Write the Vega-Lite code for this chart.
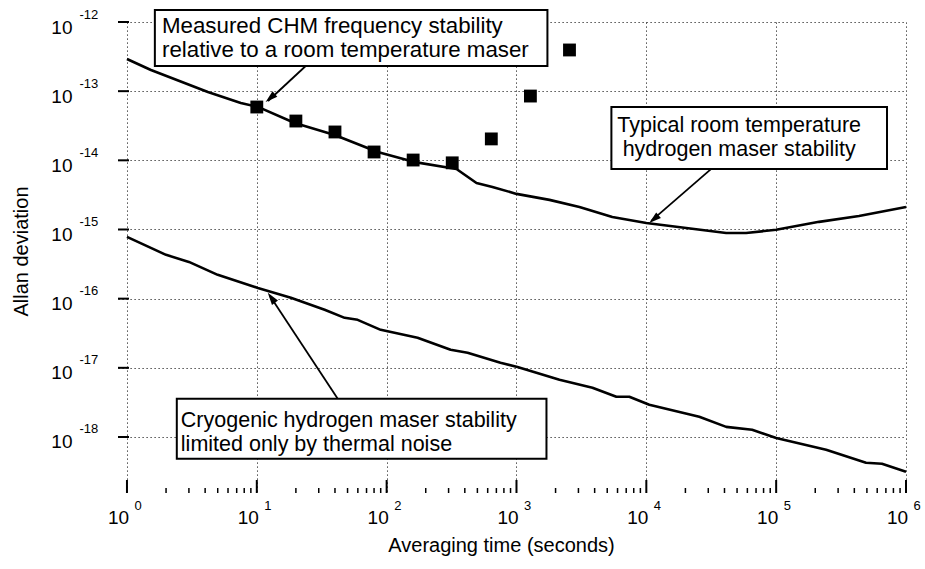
{
  "$schema": "https://vega.github.io/schema/vega-lite/v6.json",
  "width": 788,
  "height": 471,
  "autosize": {"type": "none"},
  "padding": {"left": 118, "top": 22, "right": 19, "bottom": 76},
  "background": "white",
  "config": {
    "view": {"stroke": null},
    "font": "Liberation Sans",
    "axis": {"labelFont": "Liberation Sans", "titleFont": "Liberation Sans", "labelColor": "black", "titleColor": "black"}
  },
  "datasets": {
    "curves": [
      {"s": "room", "t": 1, "v": 2.92e-13},
      {"s": "room", "t": 1.53, "v": 2.02e-13},
      {"s": "room", "t": 4.2, "v": 9.7e-14},
      {"s": "room", "t": 7.53, "v": 6.75e-14},
      {"s": "room", "t": 10.2, "v": 5.92e-14},
      {"s": "room", "t": 19.6, "v": 3.47e-14},
      {"s": "room", "t": 39.8, "v": 2.33e-14},
      {"s": "room", "t": 85.3, "v": 1.32e-14},
      {"s": "room", "t": 161, "v": 9.5e-15},
      {"s": "room", "t": 345, "v": 7.5e-15},
      {"s": "room", "t": 492, "v": 4.71e-15},
      {"s": "room", "t": 653, "v": 4.13e-15},
      {"s": "room", "t": 1000, "v": 3.27e-15},
      {"s": "room", "t": 1795, "v": 2.68e-15},
      {"s": "room", "t": 3055, "v": 2.12e-15},
      {"s": "room", "t": 5470, "v": 1.52e-15},
      {"s": "room", "t": 10000, "v": 1.24e-15},
      {"s": "room", "t": 20300, "v": 1.05e-15},
      {"s": "room", "t": 41200, "v": 8.9e-16},
      {"s": "room", "t": 58700, "v": 8.9e-16},
      {"s": "room", "t": 100000, "v": 9.9e-16},
      {"s": "room", "t": 214000, "v": 1.29e-15},
      {"s": "room", "t": 434500, "v": 1.57e-15},
      {"s": "room", "t": 1000000, "v": 2.12e-15},
      {"s": "cryo", "t": 1, "v": 7.82e-16},
      {"s": "cryo", "t": 2.0, "v": 4.3e-16},
      {"s": "cryo", "t": 3.0, "v": 3.4e-16},
      {"s": "cryo", "t": 5.0, "v": 2.21e-16},
      {"s": "cryo", "t": 10.2, "v": 1.43e-16},
      {"s": "cryo", "t": 18.3, "v": 1.03e-16},
      {"s": "cryo", "t": 33.3, "v": 6.9e-17},
      {"s": "cryo", "t": 47.5, "v": 5.28e-17},
      {"s": "cryo", "t": 59.8, "v": 4.94e-17},
      {"s": "cryo", "t": 90, "v": 3.54e-17},
      {"s": "cryo", "t": 173, "v": 2.72e-17},
      {"s": "cryo", "t": 311, "v": 1.82e-17},
      {"s": "cryo", "t": 420, "v": 1.65e-17},
      {"s": "cryo", "t": 753, "v": 1.18e-17},
      {"s": "cryo", "t": 1018, "v": 1.03e-17},
      {"s": "cryo", "t": 2143, "v": 6.71e-18},
      {"s": "cryo", "t": 3846, "v": 5.14e-18},
      {"s": "cryo", "t": 5875, "v": 3.81e-18},
      {"s": "cryo", "t": 7396, "v": 3.81e-18},
      {"s": "cryo", "t": 10540, "v": 2.92e-18},
      {"s": "cryo", "t": 25570, "v": 1.96e-18},
      {"s": "cryo", "t": 41230, "v": 1.4e-18},
      {"s": "cryo", "t": 65300, "v": 1.27e-18},
      {"s": "cryo", "t": 100000, "v": 9.7e-19},
      {"s": "cryo", "t": 242500, "v": 6.53e-19},
      {"s": "cryo", "t": 492000, "v": 4.24e-19},
      {"s": "cryo", "t": 653000, "v": 4.1e-19},
      {"s": "cryo", "t": 1000000, "v": 3.14e-19}
    ],
    "squares": [
      {"t": 10, "v": 5.9e-14},
      {"t": 20, "v": 3.7e-14},
      {"t": 40, "v": 2.57e-14},
      {"t": 80, "v": 1.32e-14},
      {"t": 160, "v": 1.01e-14},
      {"t": 320, "v": 9.2e-15},
      {"t": 640, "v": 2.04e-14},
      {"t": 1280, "v": 8.5e-14},
      {"t": 2560, "v": 3.94e-13}
    ],
    "boxes": [
      {"t": 1.64, "t2": 1731, "v": 2.31e-13, "v2": 1.49e-12},
      {"t": 5383, "t2": 714000, "v": 7.51e-15, "v2": 5.91e-14},
      {"t": 2.42, "t2": 1702, "v": 4.84e-19, "v2": 3.56e-18}
    ],
    "notes": [
      {"id": "n1", "t": 1.86, "v": 6.93e-13, "txt": "Measured CHM frequency stability\nrelative to a room temperature maser"},
      {"id": "n2", "t": 51900, "v": 2.57e-14, "txt": "Typical room temperature\nhydrogen maser stability"},
      {"id": "n3", "t": 2.6, "v": 1.4e-18, "txt": "Cryogenic hydrogen maser stability\nlimited only by thermal noise"}
    ],
    "arrows": [
      {"id": "a1", "t": 23.8, "v": 2.31e-13},
      {"id": "a1", "t": 12.2, "v": 7.21e-14},
      {"id": "a2", "t": 31620, "v": 7.51e-15},
      {"id": "a2", "t": 10920, "v": 1.33e-15},
      {"id": "a3", "t": 42.0, "v": 3.56e-18},
      {"id": "a3", "t": 12.6, "v": 1.1e-16}
    ],
    "heads": [
      {"id": "a1", "t": 12.7, "v": 7.98e-14},
      {"id": "a2", "t": 11430, "v": 1.41e-15},
      {"id": "a3", "t": 12.95, "v": 1.03e-16}
    ],
    "xticks": [
      {"t": 1, "k": "major"}, {"t": 10, "k": "major"}, {"t": 100, "k": "major"}, {"t": 1000, "k": "major"},
      {"t": 10000, "k": "major"}, {"t": 100000, "k": "major"}, {"t": 1000000, "k": "major"},
      {"t": 2, "k": "minor"}, {"t": 3, "k": "minor"}, {"t": 4, "k": "minor"}, {"t": 5, "k": "minor"}, {"t": 6, "k": "minor"}, {"t": 7, "k": "minor"}, {"t": 8, "k": "minor"}, {"t": 9, "k": "minor"},
      {"t": 20, "k": "minor"}, {"t": 30, "k": "minor"}, {"t": 40, "k": "minor"}, {"t": 50, "k": "minor"}, {"t": 60, "k": "minor"}, {"t": 70, "k": "minor"}, {"t": 80, "k": "minor"}, {"t": 90, "k": "minor"},
      {"t": 200, "k": "minor"}, {"t": 300, "k": "minor"}, {"t": 400, "k": "minor"}, {"t": 500, "k": "minor"}, {"t": 600, "k": "minor"}, {"t": 700, "k": "minor"}, {"t": 800, "k": "minor"}, {"t": 900, "k": "minor"},
      {"t": 2000, "k": "minor"}, {"t": 3000, "k": "minor"}, {"t": 4000, "k": "minor"}, {"t": 5000, "k": "minor"}, {"t": 6000, "k": "minor"}, {"t": 7000, "k": "minor"}, {"t": 8000, "k": "minor"}, {"t": 9000, "k": "minor"},
      {"t": 20000, "k": "minor"}, {"t": 30000, "k": "minor"}, {"t": 40000, "k": "minor"}, {"t": 50000, "k": "minor"}, {"t": 60000, "k": "minor"}, {"t": 70000, "k": "minor"}, {"t": 80000, "k": "minor"}, {"t": 90000, "k": "minor"},
      {"t": 200000, "k": "minor"}, {"t": 300000, "k": "minor"}, {"t": 400000, "k": "minor"}, {"t": 500000, "k": "minor"}, {"t": 600000, "k": "minor"}, {"t": 700000, "k": "minor"}, {"t": 800000, "k": "minor"}, {"t": 900000, "k": "minor"}
    ],
    "yticks": [
      {"v": 1e-18}, {"v": 1e-17}, {"v": 1e-16}, {"v": 1e-15}, {"v": 1e-14}, {"v": 1e-13}, {"v": 1e-12}
    ]
  },
  "layer": [
    {
      "data": {"name": "boxes"},
      "mark": {"type": "rect", "fill": "white", "stroke": "black", "strokeWidth": 2},
      "encoding": {
        "x": {"field": "t", "type": "quantitative",
          "scale": {"type": "log", "domain": [0.853, 1000000], "nice": false},
          "axis": {"orient": "bottom", "values": [1, 10, 100, 1000, 10000, 100000, 1000000],
            "labelExpr": "'' + round(log(datum.value)/LN10)", "labelFontSize": 13,
            "labelAlign": "left", "labelBaseline": "middle", "labelOffset": 7, "labelPadding": 12,
            "labelFlush": false, "labelOverlap": false, "ticks": false, "tickSize": 0,
            "domain": false, "grid": false, "title": null}},
        "x2": {"field": "t2"},
        "y": {"field": "v", "type": "quantitative",
          "scale": {"type": "log", "domain": [1.549e-19, 1e-12], "nice": false}, "axis": null},
        "y2": {"field": "v2"}
      }
    },
    {
      "data": {"name": "curves"},
      "mark": {"type": "line", "color": "black", "strokeWidth": 2.6, "strokeJoin": "round"},
      "encoding": {
        "x": {"field": "t", "type": "quantitative",
          "scale": {"type": "log", "domain": [0.853, 1000000], "nice": false},
          "axis": {"orient": "bottom", "values": [1, 10, 100, 1000, 10000, 100000, 1000000],
            "labelExpr": "'10'", "labelFontSize": 19, "labelAlign": "center", "labelBaseline": "middle",
            "labelOffset": -9, "labelPadding": 24, "labelFlush": false, "labelOverlap": false,
            "ticks": false, "tickSize": 0, "domain": false,
            "grid": true, "gridDash": [1.2, 2.8], "gridColor": "#222", "gridWidth": 1, "gridOpacity": 1,
            "title": "Averaging time (seconds)", "titleFontSize": 20, "titleFontWeight": "normal",
            "titleX": 383, "titleY": 58, "titleBaseline": "alphabetic", "titleAlign": "center"}},
        "y": {"field": "v", "type": "quantitative",
          "scale": {"type": "log", "domain": [1.549e-19, 1e-12], "nice": false},
          "axis": {"orient": "left", "values": [1e-18, 1e-17, 1e-16, 1e-15, 1e-14, 1e-13, 1e-12],
            "labelExpr": "'10'", "labelFontSize": 19, "labelAlign": "right", "labelBaseline": "middle",
            "labelOffset": 5, "labelPadding": 46, "labelFlush": false, "labelOverlap": false,
            "ticks": false, "tickSize": 0, "domain": false,
            "grid": true, "gridDash": [1.2, 2.8], "gridColor": "#222", "gridWidth": 1, "gridOpacity": 1,
            "title": "Allan deviation", "titleFontSize": 20, "titleFontWeight": "normal",
            "titleX": -91, "titleY": 229, "titleBaseline": "alphabetic", "titleAlign": "center", "titleAngle": -90}},
        "detail": {"field": "s"}
      }
    },
    {
      "data": {"name": "squares"},
      "mark": {"type": "square", "size": 165, "color": "black", "filled": true, "opacity": 1},
      "encoding": {
        "x": {"field": "t", "type": "quantitative",
          "scale": {"type": "log", "domain": [0.853, 1000000], "nice": false}, "axis": null},
        "y": {"field": "v", "type": "quantitative",
          "scale": {"type": "log", "domain": [1.549e-19, 1e-12], "nice": false},
          "axis": {"orient": "left", "values": [1e-18, 1e-17, 1e-16, 1e-15, 1e-14, 1e-13, 1e-12],
            "labelExpr": "'-' + (-round(log(datum.value)/LN10))", "labelFontSize": 13,
            "labelAlign": "left", "labelBaseline": "middle", "labelOffset": -8, "labelPadding": 39,
            "labelFlush": false, "labelOverlap": false, "ticks": false, "tickSize": 0,
            "domain": false, "grid": false, "title": null}}
      }
    },
    {
      "data": {"name": "xticks"},
      "transform": [{"filter": "datum.k == 'major'"}],
      "mark": {"type": "tick", "orient": "vertical", "color": "black", "thickness": 2, "size": 13, "yOffset": -6.5, "opacity": 1},
      "encoding": {
        "x": {"field": "t", "type": "quantitative", "scale": {"type": "log", "domain": [0.853, 1000000], "nice": false}, "axis": null},
        "y": {"datum": 1.549e-19, "type": "quantitative", "scale": {"type": "log", "domain": [1.549e-19, 1e-12], "nice": false}, "axis": null}
      }
    },
    {
      "data": {"name": "xticks"},
      "transform": [{"filter": "datum.k == 'minor'"}],
      "mark": {"type": "tick", "orient": "vertical", "color": "black", "thickness": 1.5, "size": 5, "yOffset": -2.5, "opacity": 1},
      "encoding": {
        "x": {"field": "t", "type": "quantitative", "scale": {"type": "log", "domain": [0.853, 1000000], "nice": false}, "axis": null},
        "y": {"datum": 1.549e-19, "type": "quantitative", "scale": {"type": "log", "domain": [1.549e-19, 1e-12], "nice": false}, "axis": null}
      }
    },
    {
      "data": {"name": "yticks"},
      "mark": {"type": "tick", "orient": "horizontal", "color": "black", "thickness": 2, "size": 11, "xOffset": 5.5, "opacity": 1},
      "encoding": {
        "y": {"field": "v", "type": "quantitative", "scale": {"type": "log", "domain": [1.549e-19, 1e-12], "nice": false}, "axis": null},
        "x": {"datum": 0.853, "type": "quantitative", "scale": {"type": "log", "domain": [0.853, 1000000], "nice": false}, "axis": null}
      }
    },
    {
      "mark": {"type": "rule", "color": "black", "strokeWidth": 2.5},
      "encoding": {
        "y": {"datum": 1.549e-19, "type": "quantitative", "scale": {"type": "log", "domain": [1.549e-19, 1e-12], "nice": false}, "axis": null}
      }
    },
    {
      "mark": {"type": "rule", "color": "black", "strokeWidth": 2.5},
      "encoding": {
        "x": {"datum": 0.853, "type": "quantitative", "scale": {"type": "log", "domain": [0.853, 1000000], "nice": false}, "axis": null}
      }
    },
    {
      "data": {"name": "arrows"},
      "mark": {"type": "line", "color": "black", "strokeWidth": 1.8},
      "encoding": {
        "x": {"field": "t", "type": "quantitative", "scale": {"type": "log", "domain": [0.853, 1000000], "nice": false}, "axis": null},
        "y": {"field": "v", "type": "quantitative", "scale": {"type": "log", "domain": [1.549e-19, 1e-12], "nice": false}, "axis": null},
        "detail": {"field": "id"}
      }
    },
    {
      "data": {"name": "heads"},
      "transform": [{"filter": "datum.id == 'a1'"}],
      "mark": {"type": "point", "shape": "M0,-1L0.6,1L-0.6,1Z", "filled": true, "color": "black", "opacity": 1, "size": 150, "angle": 229},
      "encoding": {
        "x": {"field": "t", "type": "quantitative", "scale": {"type": "log", "domain": [0.853, 1000000], "nice": false}, "axis": null},
        "y": {"field": "v", "type": "quantitative", "scale": {"type": "log", "domain": [1.549e-19, 1e-12], "nice": false}, "axis": null}
      }
    },
    {
      "data": {"name": "heads"},
      "transform": [{"filter": "datum.id == 'a2'"}],
      "mark": {"type": "point", "shape": "M0,-1L0.6,1L-0.6,1Z", "filled": true, "color": "black", "opacity": 1, "size": 150, "angle": 230},
      "encoding": {
        "x": {"field": "t", "type": "quantitative", "scale": {"type": "log", "domain": [0.853, 1000000], "nice": false}, "axis": null},
        "y": {"field": "v", "type": "quantitative", "scale": {"type": "log", "domain": [1.549e-19, 1e-12], "nice": false}, "axis": null}
      }
    },
    {
      "data": {"name": "heads"},
      "transform": [{"filter": "datum.id == 'a3'"}],
      "mark": {"type": "point", "shape": "M0,-1L0.6,1L-0.6,1Z", "filled": true, "color": "black", "opacity": 1, "size": 150, "angle": 324},
      "encoding": {
        "x": {"field": "t", "type": "quantitative", "scale": {"type": "log", "domain": [0.853, 1000000], "nice": false}, "axis": null},
        "y": {"field": "v", "type": "quantitative", "scale": {"type": "log", "domain": [1.549e-19, 1e-12], "nice": false}, "axis": null}
      }
    },
    {
      "data": {"name": "notes"},
      "transform": [{"filter": "datum.id == 'n1'"}],
      "mark": {"type": "text", "align": "left", "baseline": "alphabetic", "fontSize": 22.3, "lineHeight": 24, "lineBreak": "\n", "color": "black"},
      "encoding": {
        "x": {"field": "t", "type": "quantitative", "scale": {"type": "log", "domain": [0.853, 1000000], "nice": false}, "axis": null},
        "y": {"field": "v", "type": "quantitative", "scale": {"type": "log", "domain": [1.549e-19, 1e-12], "nice": false}, "axis": null},
        "text": {"field": "txt"}
      }
    },
    {
      "data": {"name": "notes"},
      "transform": [{"filter": "datum.id == 'n3'"}],
      "mark": {"type": "text", "align": "left", "baseline": "alphabetic", "fontSize": 21.5, "lineHeight": 24, "lineBreak": "\n", "color": "black"},
      "encoding": {
        "x": {"field": "t", "type": "quantitative", "scale": {"type": "log", "domain": [0.853, 1000000], "nice": false}, "axis": null},
        "y": {"field": "v", "type": "quantitative", "scale": {"type": "log", "domain": [1.549e-19, 1e-12], "nice": false}, "axis": null},
        "text": {"field": "txt"}
      }
    },
    {
      "data": {"name": "notes"},
      "transform": [{"filter": "datum.id == 'n2'"}],
      "mark": {"type": "text", "align": "center", "baseline": "alphabetic", "fontSize": 21.5, "lineHeight": 24, "lineBreak": "\n", "color": "black"},
      "encoding": {
        "x": {"field": "t", "type": "quantitative", "scale": {"type": "log", "domain": [0.853, 1000000], "nice": false}, "axis": null},
        "y": {"field": "v", "type": "quantitative", "scale": {"type": "log", "domain": [1.549e-19, 1e-12], "nice": false}, "axis": null},
        "text": {"field": "txt"}
      }
    }
  ],
  "resolve": {"axis": {"x": "independent", "y": "independent"}}
}
